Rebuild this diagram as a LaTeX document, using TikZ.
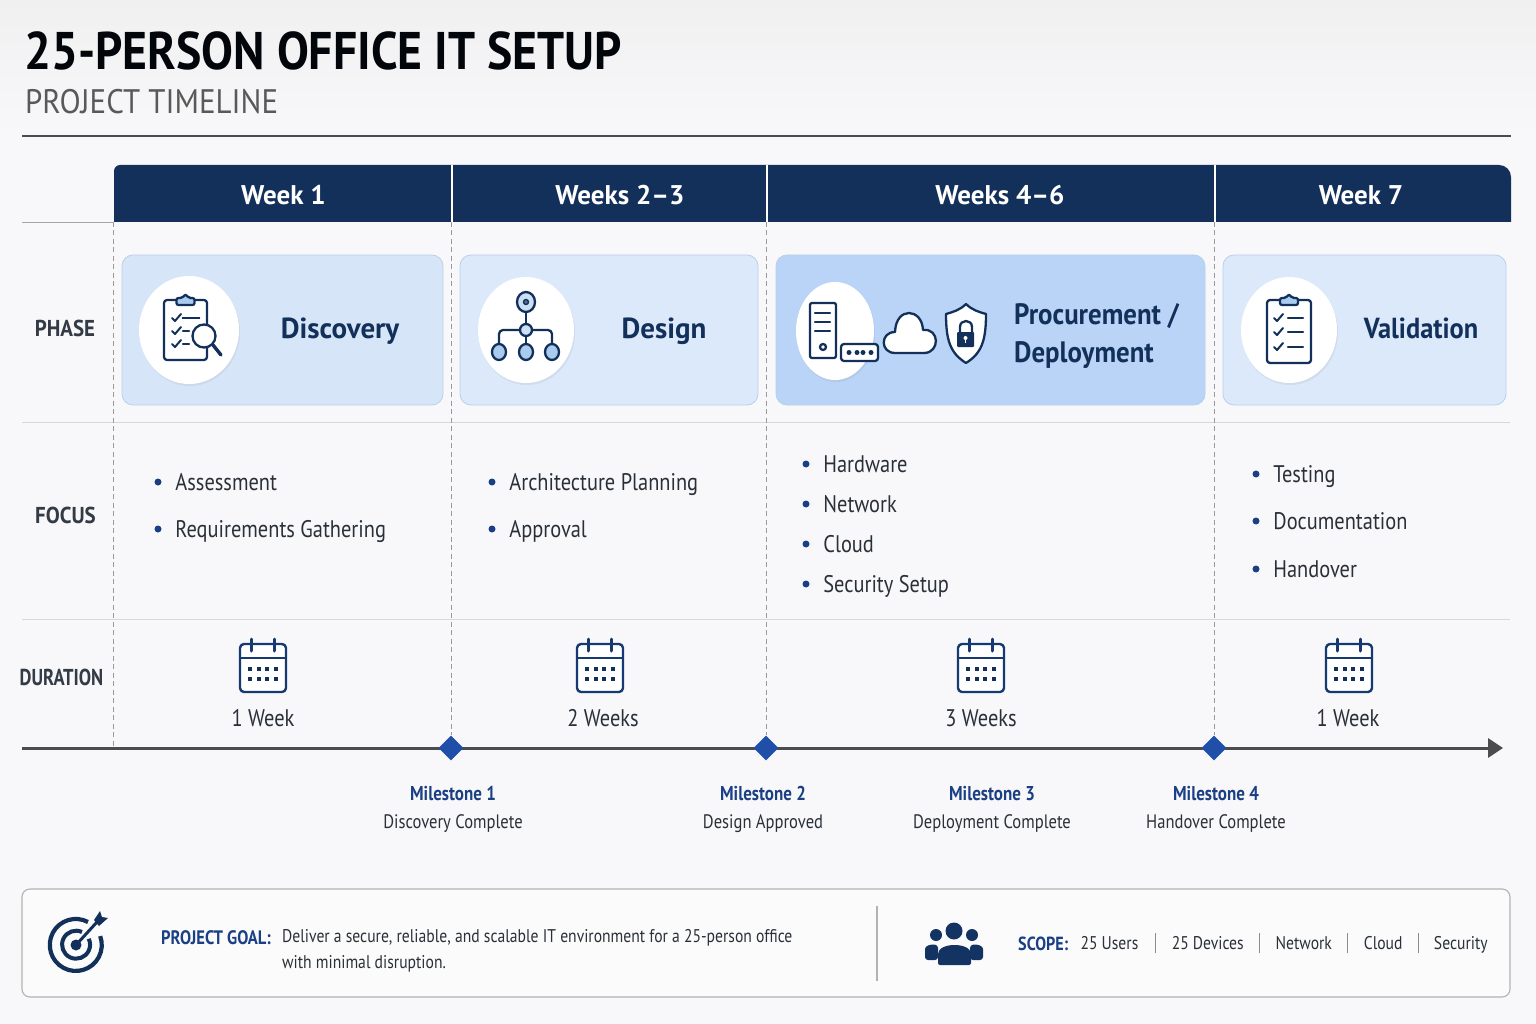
\documentclass[tikz,border=0pt]{standalone}
\usepackage{fontspec}
\setmainfont{PT Sans}
\newfontfamily\condfont[FakeStretch=0.85]{PT Sans}
\newfontfamily\semifont[FakeStretch=0.91]{PT Sans}
\newfontfamily\titlefont[FakeStretch=0.90]{PT Sans}
\newfontfamily\tightfont[FakeStretch=0.80]{PT Sans}
\usetikzlibrary{arrows.meta,positioning,shapes.geometric,calc,shadows}
\definecolor{PageBg}{HTML}{F8F8FA}
\definecolor{HeadTop}{HTML}{F0F0F1}
\definecolor{Navy}{HTML}{12305A}
\definecolor{MileBlue}{HTML}{1B3F84}
\definecolor{DiamondBlue}{HTML}{1F4FA8}
\definecolor{BodyText}{HTML}{2A3038}
\definecolor{LabelText}{HTML}{333B46}
\definecolor{GridLine}{HTML}{D6D8DB}
\definecolor{CardEdge}{HTML}{B9D0EA}
\definecolor{CardA}{HTML}{D6E6F8}
\definecolor{CardB}{HTML}{DCE9FB}
\definecolor{CardC}{HTML}{B9D4F6}
\definecolor{IconFill}{HTML}{A9CBEE}
\newcommand{\fsz}[2]{\fontsize{#1}{#2}\selectfont}

% calendar, centred on x
\newcommand{\calicon}[2]{
  \begin{scope}[shift={(#1,#2)}]
    \draw[icon,line width=2.4,draw=Navy!70!DiamondBlue,fill=white,rounded corners=4] (-23,5) rectangle (23,53);
    \draw[icon,line width=2,draw=Navy!70!DiamondBlue] (-23,19) -- (23,19);
    \foreach \cx in {-12,11} \draw[icon,line width=3,draw=Navy!70!DiamondBlue] (\cx,0) -- (\cx,12);
    \foreach \cx in {-13,-4,4,13} \foreach \cy in {30,40}
      \fill[Navy] (\cx-1.8,\cy-1.8) rectangle (\cx+1.8,\cy+1.8);
  \end{scope}}

% clipboard, top left of the board at x,y
\newcommand{\clipicon}[4]{
  \begin{scope}[shift={(#1,#2)}]
    \draw[icon,fill=white,rounded corners=3] (0,0) rectangle (#3,#4);
    \draw[icon,fill=IconFill,rounded corners=2] (#3/2-9,5) -- (#3/2-9,-2) -- (#3/2-3,-2) -- (#3/2,-6) -- (#3/2+3,-2) -- (#3/2+9,-2) -- (#3/2+9,5) -- cycle;
  \end{scope}}

% one tick on a list
\newcommand{\tickmark}[2]{
  \draw[icon,line width=2] (#1,#2) -- ++(3,3) -- ++(6,-7);}

\begin{document}
\begin{tikzpicture}[x=1pt,y=-1pt,
    icon/.style={draw=Navy,line width=2.3,line join=round,line cap=round},
    rowlabel/.style={inner sep=0,text=LabelText,font=\semifont\fsz{23}{26}\bfseries},
    weeklabel/.style={inner sep=0,text=white,font=\fsz{27}{30}\bfseries},
    card/.style={draw=CardEdge,line width=0.8,rounded corners=11},
    badge/.style={fill=white,drop shadow={opacity=0.12,shadow xshift=1pt,shadow yshift=-2pt}},
    phasename/.style={inner sep=0,text=Navy,font=\fsz{29}{38}\bfseries,align=left},
    capmid/.style={text height=24pt,text depth=4pt},
    focusdot/.style={circle,fill=MileBlue,inner sep=0,minimum size=7},
    focusitem/.style={inner sep=0,text=BodyText,font=\condfont\fsz{24}{28},text height=20pt,text depth=3pt},
    dur/.style={inner sep=0,text=BodyText,font=\condfont\fsz{24}{28}},
    milediamond/.style={diamond,fill=DiamondBlue,inner sep=0,minimum size=25},
    miletitle/.style={inner sep=0,text=MileBlue,font=\condfont\fsz{20}{24}\bfseries,text height=16pt,text depth=2pt},
    milesub/.style={inner sep=0,text=BodyText,font=\condfont\fsz{19.5}{24},text height=16pt,text depth=2.4pt},
    grid/.style={draw=GridLine,line width=0.9},
    dashline/.style={draw=black!40,line width=0.9,dash pattern=on 5pt off 3.5pt},
    scopeitem/.style={inner sep=0,text=BodyText,font=\condfont\fsz{18.4}{24},text height=15pt,text depth=2pt}]

  \useasboundingbox (0,0) rectangle (1536,1024);
  \fill[PageBg] (0,0) rectangle (1536,1024);
  \shade[top color=HeadTop,bottom color=PageBg] (0,0) rectangle (1536,135);

  % title
  \node[inner sep=0,anchor=base west,text=black!90!Navy,font=\titlefont\fsz{53}{56}\bfseries] (title) at (24,70) {25-PERSON OFFICE IT SETUP};
  \node[inner sep=0,anchor=base west,text=black!65,font=\semifont\fsz{34}{36}] (subtitle) at (25,114) {PROJECT TIMELINE};
  \draw[line width=1.4,draw=black!70] (22,136) -- (1511,136);

  % week header
  \fill[Navy] (114,222) [rounded corners=6] -- (114,165) [rounded corners=12] -- (1511,165) [sharp corners] -- (1511,222) -- cycle;
  \foreach \sx in {452,767,1215} \draw[white,line width=1.2] (\sx,165) -- (\sx,222);
  \foreach \n/\nx/\t in {wk1/283.5/Week 1,wk2/620/Weeks 2–3,wk3/1000/Weeks 4–6,wk4/1361/Week 7}
    \node[weeklabel] (\n) at (\nx,195) {\t};

  % rows
  \draw[grid,draw=black!35] (22,222) -- (114,222);
  \draw[grid] (22,422) -- (1510,422);
  \draw[grid] (22,619) -- (1510,619);
  \node[rowlabel] (rphase) at (65,328) {PHASE};
  \node[rowlabel] (rfocus) at (65.5,515) {FOCUS};
  \node[rowlabel,font=\tightfont\fsz{23}{26}\bfseries] (rdur) at (61.5,677) {DURATION};

  % timeline and milestones
  \coordinate (tl0) at (22,748);
  \coordinate (tl1) at (1503,748);
  \draw[line width=3,draw=black!70,-{Triangle[length=15,width=19]}] (tl0) -- (tl1);
  \foreach \n/\nx in {ms1/451,ms2/766,ms3/1214}
    \node[milediamond] (\n) at (\nx,748) {};
  \draw[dashline] (113,222) -- (113,746);
  \foreach \n/\nx in {ms1/451,ms2/766,ms3/1214}
    \draw[dashline] (\nx,222) -- (\n.north);

  % cards
  \foreach \ax/\bx/\col in {122/443/CardA,460/758/CardB,776/1205/CardC,1223/1506/CardB}
    \path[card,fill=\col] (\ax,255) rectangle (\bx,405);
  \path[badge] (189,330) circle [x radius=50,y radius=54];
  \path[badge] (526,330) circle [x radius=48,y radius=53];
  \path[badge] (835,331) circle [x radius=39,y radius=49];
  \path[badge] (1289,330) circle [x radius=48,y radius=53];
  \node[phasename,capmid] (pdisc) at (340,328) {Discovery};
  \node[phasename,capmid] (pdes) at (664,328) {Design};
  \node[phasename,font=\semifont\fsz{29.5}{38}\bfseries,anchor=west] (ppro) at (1014,336) {Procurement /\\Deployment};
  \node[phasename,capmid,font=\semifont\fsz{29}{38}\bfseries] (pval) at (1421,328) {Validation};

  % discovery icon
  \clipicon{164}{300}{43}{60}
  \foreach \cy in {318,331,344} \tickmark{172}{\cy}
  \draw[icon] (183,318) -- (199,318);
  \foreach \cy in {331,344} \draw[icon] (183,\cy) -- (189,\cy);
  \draw[icon,fill=white] (204,336) circle (11.5);
  \draw[icon,line width=3.4] (213,345) -- (221,355);

  % design icon
  \draw[icon] (526,312) -- (526,344);
  \draw[icon,rounded corners=4] (499,344) -- (499,330) -- (552,330) -- (552,344);
  \draw[icon,fill=IconFill!60] (526,302) circle [x radius=9,y radius=10];
  \draw[icon,fill=Navy!70,line width=1.4] (526,302) circle (2.5);
  \draw[icon,fill=IconFill!60] (526,330) circle (6);
  \foreach \nx in {499,526,552} \draw[icon,fill=IconFill] (\nx,352) circle [x radius=7,y radius=8];

  % server, cloud and shield
  \draw[icon,fill=white,rounded corners=2] (810,303) rectangle (836,358);
  \foreach \cy in {313,322,331} \draw[icon] (815,\cy) -- (830,\cy);
  \draw[icon] (823,347) circle (3);
  \draw[icon,fill=white,rounded corners=3] (841,344) rectangle (878,361);
  \foreach \nx in {849,857,863,871} \fill[Navy] (\nx,352.5) circle (2.5);
  \draw[icon,fill=white] (895,353) .. controls (880,353) and (880,332) .. (895,332)
    .. controls (896,306) and (922,308) .. (923,330) .. controls (940,328) and (940,353) .. (924,353) -- cycle;
  \draw[icon,fill=white] (966,304) .. controls (960,310) and (953,312) .. (946,314)
    .. controls (946,340) and (950,353) .. (966,363) .. controls (982,353) and (986,340) .. (986,314)
    .. controls (979,312) and (972,310) .. (966,304) -- cycle;
  \draw[icon] (960,333) -- (960,327) .. controls (960,319) and (972,319) .. (972,327) -- (972,333);
  \fill[Navy,rounded corners=1] (957,332) rectangle (974,347);
  \fill[white] (965.5,338) circle (2);
  \draw[white,line width=1.4] (965.5,339) -- (965.5,343);

  % validation icon
  \clipicon{1267}{300}{44}{63}
  \foreach \cy in {318,332,347} {
    \tickmark{1274}{\cy}
    \draw[icon] (1288,\cy) -- (1303,\cy);
  }

  % focus lists
  \foreach \n/\nx/\ny/\t in {
      fa/158/482/Assessment,fb/158/529/Requirements Gathering,
      fc/492/482/Architecture Planning,fd/492/529/Approval,
      fe/806/464/Hardware,ff/806/504/Network,fg/806/544/Cloud,fh/806/584/Security Setup,
      fi/1256/474/Testing,fj/1256/521/Documentation,fk/1256/569/Handover}{
    \node[focusdot] (\n) at (\nx,\ny) {};
    \node[focusitem,right=13.5pt of \n] (\n t) {\t};
  }

  % durations
  \foreach \nx/\tx/\n/\t in {263/263/da/1 Week,600/603/db/2 Weeks,981/981/dc/3 Weeks,1349/1348/dd/1 Week}{
    \calicon{\nx}{639}
    \node[dur] (\n) at (\tx,718) {\t};
  }

  % milestone labels
  \foreach \n/\nx/\t/\s in {la/453/Milestone 1/Discovery Complete,lb/763/Milestone 2/Design Approved,
      lc/992/Milestone 3/Deployment Complete,ld/1216/Milestone 4/Handover Complete}{
    \node[miletitle] (\n) at (\nx,793) {\t};
    \node[milesub] (\n s) at (\nx,822) {\s};
  }

  % goal and scope panel
  \draw[draw=black!30,fill=PageBg!60!white,line width=1.1,rounded corners=8] (22,889) rectangle (1510,997);
  \draw[draw=black!30,line width=1.1] (877,906) -- (877,981);
  % target
  \draw[Navy,line width=4.2] (88,922) arc (-62:-380:26);
  \draw[Navy,line width=4] (82,932) arc (-65:-385:14);
  \fill[Navy] (76,945) circle (5.5);
  \draw[Navy,line width=3] (76,945) -- (97,922);
  \fill[Navy] (94,920) -- (100,911) -- (102,917) -- (108,918) -- (99,926) -- cycle;
  % people
  \fill[Navy!90!DiamondBlue] (954,931) circle (8.5);
  \foreach \nx in {936,972} \fill[Navy!90!DiamondBlue] (\nx,935) circle (6);
  \fill[Navy!90!DiamondBlue,rounded corners=3] (925,960) -- (925,952) .. controls (925,946) and (930,944) .. (938,945) -- (938,960) -- cycle;
  \fill[Navy!90!DiamondBlue,rounded corners=3] (983,960) -- (983,952) .. controls (983,946) and (978,944) .. (970,945) -- (970,960) -- cycle;
  \fill[Navy!90!DiamondBlue,rounded corners=2] (938,965) -- (938,956) .. controls (938,942) and (971,942) .. (971,956) -- (971,965) -- cycle;

  \node[miletitle,font=\condfont\fsz{19.5}{24}\bfseries,anchor=west] (goalhead) at (161,937) {PROJECT GOAL:};
  \node[scopeitem,anchor=west] (goalone) at (282,936) {Deliver a secure, reliable, and scalable IT environment for a 25-person office};
  \node[scopeitem,anchor=west] (goaltwo) at (282,962) {with minimal disruption.};

  \node[miletitle,font=\condfont\fsz{19}{24}\bfseries,anchor=west] (scopehead) at (1018,943) {SCOPE:};
  \node[scopeitem,right=12pt of scopehead] (s1) {25 Users};
  \node[scopeitem,right=33pt of s1] (s2) {25 Devices};
  \node[scopeitem,right=31.5pt of s2] (s3) {Network};
  \node[scopeitem,right=31.5pt of s3] (s4) {Cloud};
  \node[scopeitem,right=31pt of s4] (s5) {Security};
  \foreach \a/\b in {s1/s2,s2/s3,s3/s4,s4/s5}
    \draw[draw=black!45,line width=1] ($(\a.east)!.5!(\b.west)+(0,-10)$) -- ($(\a.east)!.5!(\b.west)+(0,10)$);
\end{tikzpicture}
\end{document}
